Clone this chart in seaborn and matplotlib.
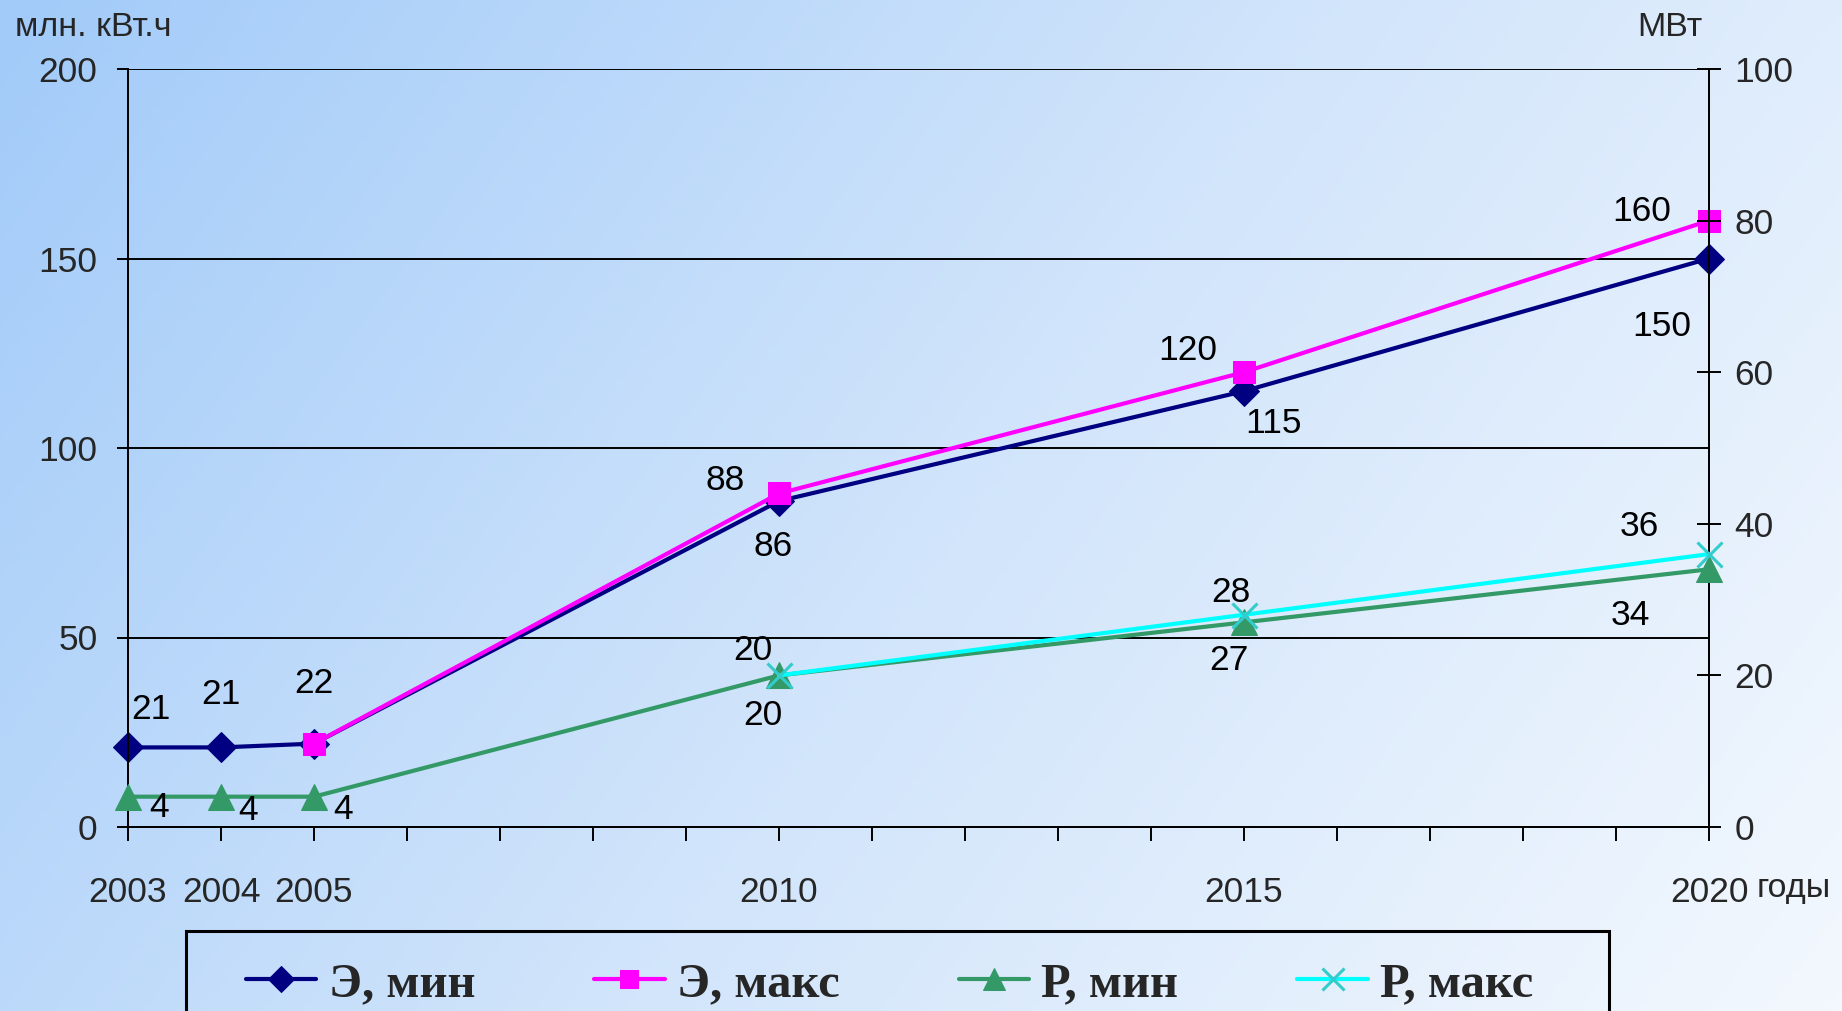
import numpy as np
import matplotlib
matplotlib.use('Agg')
import matplotlib.pyplot as plt
import seaborn as sns
from matplotlib.colors import LinearSegmentedColormap
from matplotlib.patches import Rectangle

# ---- data ----
years_e_min = [2003, 2004, 2005, 2010, 2015, 2020]
e_min = [21, 21, 22, 86, 115, 150]          # Э, мин  (млн. кВт.ч)
years_e_max = [2005, 2010, 2015, 2020]
e_max = [22, 88, 120, 160]                  # Э, макс (млн. кВт.ч)
years_p_min = [2003, 2004, 2005, 2010, 2015, 2020]
p_min = [4, 4, 4, 20, 27, 34]               # Р, мин  (МВт)
years_p_max = [2010, 2015, 2020]
p_max = [20, 28, 36]                        # Р, макс (МВт)

x_label_years = [2003, 2004, 2005, 2010, 2015, 2020]
left_ticks = [0, 50, 100, 150, 200]
right_ticks = [0, 20, 40, 60, 80, 100]

# label offsets in pixels (None = no label)
off_e_min = [(23, 38), (0, 53), None, (-6, -45), (29, -32), (-47, -68)]
off_e_max = [(0, 60), (-54, 13), (-56, 22), (-67, 9)]
off_p_min = [(31, -11), (27, -14), (29, -13), (-16, -40), (-15, -38), (-79, -46)]
off_p_max = [(-26, 25), (-13, 22), (-70, 28)]

sns.set_theme(style="white")
plt.rcParams['font.family'] = ['Liberation Sans', 'DejaVu Sans']

W, H = 1842, 1011
fig = plt.figure(figsize=(W / 100, H / 100), dpi=100)

# gradient background
bg = fig.add_axes([0, 0, 1, 1], zorder=-10)
xx, yy = np.meshgrid(np.linspace(0, 1, 400), np.linspace(0, 1, 220))
grad = 0.72 * xx + 0.28 * yy
cmap_bg = LinearSegmentedColormap.from_list('bg', ['#a2cbf9', '#d0e4fb', '#f3f8fe'])
bg.imshow(grad, cmap=cmap_bg, aspect='auto', extent=[0, 1, 0, 1], origin='upper')
bg.axis('off')

ax = fig.add_axes([128 / W, 1 - 827 / H, (1709 - 128) / W, (827 - 69) / H])
ax.patch.set_alpha(0)
ax2 = ax.twinx()
ax2.patch.set_alpha(0)

FS = 25.5
lw = 3.0

sns.lineplot(x=years_e_min, y=e_min, ax=ax, color='#000080', marker='D', markersize=15,
             markeredgecolor='#000080', linewidth=lw, clip_on=False, label='Э, мин', legend=False, zorder=3)
sns.lineplot(x=years_e_max, y=e_max, ax=ax, color='#ff00ff', marker='s', markersize=16,
             markeredgecolor='#ff00ff', linewidth=lw, clip_on=False, label='Э, макс', legend=False, zorder=4)
sns.lineplot(x=years_p_min, y=p_min, ax=ax2, color='#339966', marker='^', markersize=19,
             markeredgecolor='#339966', linewidth=lw, clip_on=False, label='Р, мин', legend=False, zorder=3)
sns.lineplot(x=years_p_max, y=p_max, ax=ax2, color='#00ffff', marker='x', markersize=18,
             markeredgecolor='#33cccc', markeredgewidth=2.2, linewidth=lw, clip_on=False,
             label='Р, макс', legend=False, zorder=4)

# data labels
for a, xs, ys, offs in [(ax, years_e_min, e_min, off_e_min), (ax, years_e_max, e_max, off_e_max),
                        (ax2, years_p_min, p_min, off_p_min), (ax2, years_p_max, p_max, off_p_max)]:
    for xv, yv, off in zip(xs, ys, offs):
        if off is None:
            continue
        a.annotate(str(yv), (xv, yv), xytext=off, textcoords='offset pixels',
                   ha='center', va='center', fontsize=FS, color='black', zorder=6,
                   annotation_clip=False)

# axes
ax.set_xlim(2003, 2020)
ax.set_ylim(0, 200)
ax2.set_ylim(0, 100)
ax.set_xticks(range(2003, 2021))
ax.set_xticklabels([str(y) if y in x_label_years else '' for y in range(2003, 2021)])
ax.set_yticks(left_ticks)
ax2.set_yticks(right_ticks)
ax.set_xlabel('')
ax.set_ylabel('')
ax2.set_ylabel('')

ax.grid(False)
ax2.grid(False)
for yv in left_ticks[1:]:
    ax.axhline(yv, color='black', linewidth=1.4, zorder=1)

for a in (ax, ax2):
    for s in a.spines.values():
        s.set_color('black')
        s.set_linewidth(1.4)
ax.spines['top'].set_visible(False)
ax2.spines['top'].set_visible(False)

ax.tick_params(axis='x', direction='out', length=10, width=1.4, color='black',
               pad=25, labelsize=FS, bottom=True)
ax.tick_params(axis='y', direction='out', length=8, width=1.4, color='black',
               pad=14, labelsize=FS, left=True)
ax2.tick_params(axis='y', direction='inout', length=17, width=1.4, color='black',
                pad=10, labelsize=FS, right=True)

# unit labels
fig.text(15 / W, 1 - 27 / H, 'млн. кВт.ч', fontsize=FS - 1, ha='left', va='center')
fig.text(1670 / W, 1 - 27 / H, 'МВт', fontsize=FS - 1, ha='center', va='center')
fig.text(1757 / W, 1 - 888 / H, 'годы', fontsize=FS - 1, ha='left', va='center')

# legend
handles = ax.get_lines()[:2] + ax2.get_lines()[:2]
labels = ['Э, мин', 'Э, макс', 'Р, мин', 'Р, макс']
fig.legend(handles, labels, ncol=4, loc='center left', bbox_to_anchor=(246 / W, 1 - 984 / H),
           frameon=False, borderpad=0, borderaxespad=0, handlelength=1.45, handletextpad=0.25,
           columnspacing=2.45, markerscale=0.85,
           prop={'family': ['Liberation Serif', 'DejaVu Serif'], 'weight': 'bold', 'size': 35})
fig.patches.append(Rectangle((186 / W, -0.05), (1609 - 186) / W, 0.05 + 1 - 931 / H,
                             transform=fig.transFigure, fill=False, edgecolor='black',
                             linewidth=2.2, zorder=5))

fig.savefig('out.png', dpi=100)
